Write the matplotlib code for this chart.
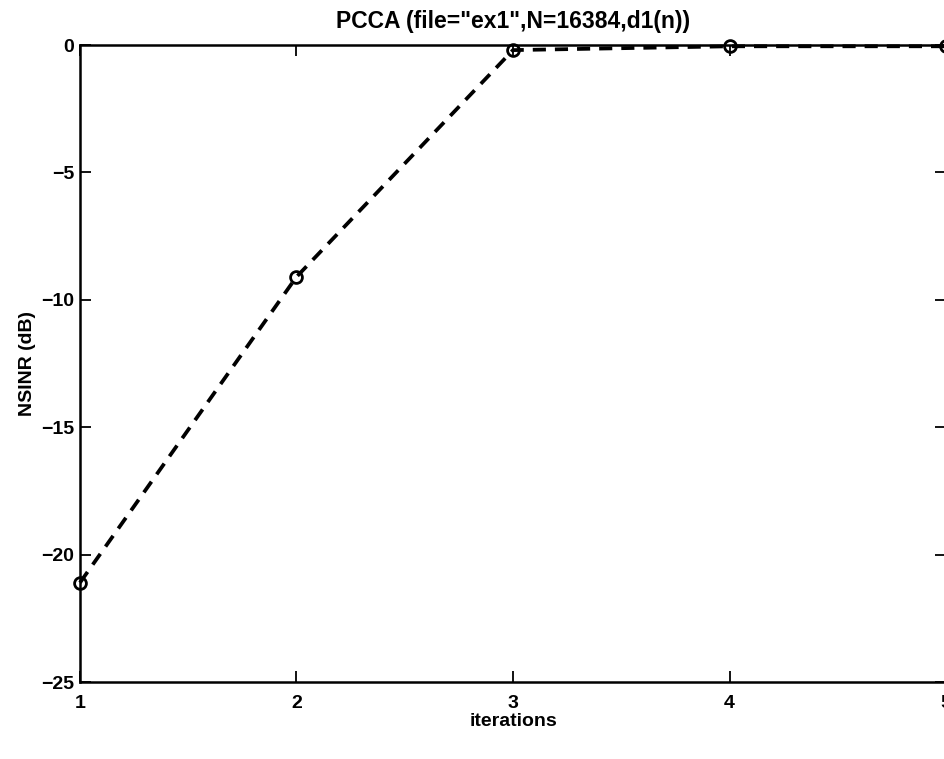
import matplotlib
matplotlib.use("Agg")
import matplotlib.pyplot as plt

iterations = [1, 2, 3, 4, 5]
nsinr_db = [-21.1, -9.1, -0.2, -0.05, -0.05]
xticks = [1, 2, 3, 4, 5]
yticks = [0, -5, -10, -15, -20, -25]

plt.rcParams['font.family'] = ['Liberation Sans', 'DejaVu Sans']
plt.rcParams['font.weight'] = 'bold'

fig = plt.figure(figsize=(9.44, 7.59), dpi=100)
ax = fig.add_axes([0.0847, 0.1014, 0.9175, 0.8393])

ax.plot(iterations, nsinr_db, color='black', linestyle=(0, (3.5, 2.4)), linewidth=2.7,
        marker='o', markersize=8.5, markerfacecolor='none', markeredgecolor='black',
        markeredgewidth=2.0, clip_on=False, zorder=3)

ax.set_xlim(1, 5)
ax.set_ylim(-25, 0)
ax.set_xticks(xticks)
ax.set_yticks(yticks)
ax.set_xticklabels([str(v) for v in xticks])
ax.set_yticklabels([str(v).replace('-', '\u2212') for v in yticks])

ax.tick_params(axis='x', direction='in', length=8, width=1.3, top=True,
               labelsize=14, pad=9)
ax.tick_params(axis='y', direction='in', length=8, width=1.3, right=True,
               labelsize=14, pad=4)
for lab in ax.get_xticklabels() + ax.get_yticklabels():
    lab.set_fontweight('bold')
for s in ax.spines.values():
    s.set_linewidth(1.8)

ax.set_title('PCCA (file="ex1",N=16384,d1(n))', fontsize=16.5, fontweight='bold', pad=12)
ax.set_xlabel('iterations', fontsize=14, fontweight='bold', labelpad=1)
ax.set_ylabel('NSINR (dB)', fontsize=14, fontweight='bold', labelpad=4)

fig.savefig('out.png', dpi=100)
